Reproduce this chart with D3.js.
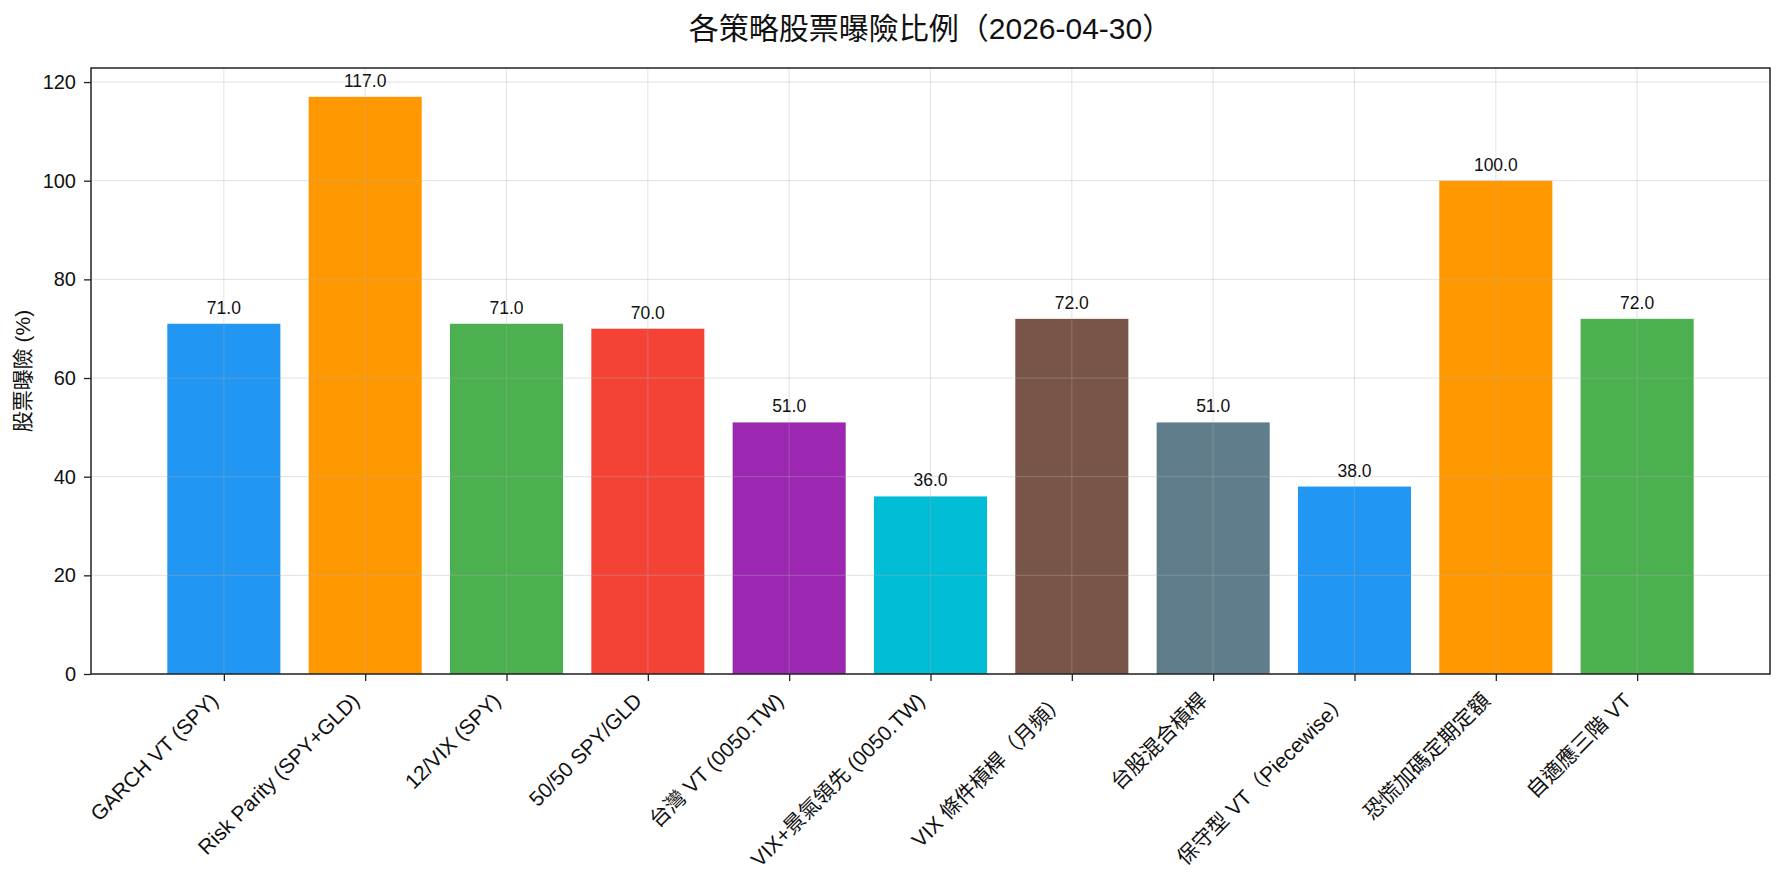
<!DOCTYPE html>
<html>
<head>
<meta charset="utf-8">
<script src="https://cdn.jsdelivr.net/npm/d3@7"></script>
<style>
  body { margin: 0; background: #fff; }
  text { font-family: "Liberation Sans", "Noto Sans CJK TC", sans-serif; fill: #111; }
</style>
</head>
<body>
<div id="chart"></div>
<script>
// data
const strategies = [
    "GARCH VT (SPY)", "Risk Parity (SPY+GLD)", "12/VIX (SPY)", "50/50 SPY/GLD",
    "台灣 VT (0050.TW)", "VIX+景氣領先 (0050.TW)", "VIX 條件槓桿（月頻）", "台股混合槓桿",
    "保守型 VT（Piecewise）", "恐慌加碼定期定額", "自適應三階 VT"
];
const exposure = [71, 117, 71, 70, 51, 36, 72, 51, 38, 100, 72];
const barColors = [
    "#2196F3", "#FF9800", "#4CAF50", "#F44336", "#9C27B0", "#00BCD4",
    "#795548", "#607D8B", "#2196F3", "#FF9800", "#4CAF50"
];
const yTicks = [0, 20, 40, 60, 80, 100, 120];
const chartTitle = "各策略股票曝險比例（2026-04-30）";
const yLabel = "股票曝險 (%)";

const W = 1782, H = 884;
const margin = {top: 68, right: 12, bottom: 210, left: 91};
const width = W - margin.left - margin.right,
    height = H - margin.top - margin.bottom;

const svg = d3.select("#chart").append("svg")
    .attr("width", W)
    .attr("height", H);

const body = svg.append("g")
    .attr("transform", "translate(" + margin.left + "," + margin.top + ")");

// bar width 0.8, 5% margins like matplotlib
const n = strategies.length;
const pad = (n - 1 + 0.8) * 0.05;
const x = d3.scaleLinear()
    .domain([-0.4 - pad, n - 1 + 0.4 + pad])
    .range([0, width]);
const y = d3.scaleLinear()
    .domain([0, d3.max(exposure) * 1.05])
    .range([height, 0]);

// bars
body.append("g")
    .selectAll("rect")
    .data(exposure)
    .enter()
    .append("rect")
    .attr("x", (d, i) => x(i - 0.4))
    .attr("width", (d, i) => x(i + 0.4) - x(i - 0.4))
    .attr("y", d => y(d))
    .attr("height", d => y(0) - y(d))
    .attr("fill", (d, i) => barColors[i]);

// grid sits above the bars
const grid = body.append("g").attr("class", "grid");
grid.selectAll(".gy")
    .data(yTicks)
    .enter()
    .append("line")
    .attr("x1", 0).attr("x2", width)
    .attr("y1", d => y(d)).attr("y2", d => y(d))
    .attr("stroke", "#b0b0b0").attr("stroke-opacity", 0.3).attr("stroke-width", 1.2);
grid.selectAll(".gx")
    .data(d3.range(n))
    .enter()
    .append("line")
    .attr("x1", d => x(d)).attr("x2", d => x(d))
    .attr("y1", 0).attr("y2", height)
    .attr("stroke", "#b0b0b0").attr("stroke-opacity", 0.3).attr("stroke-width", 1.2);

// value labels
body.append("g")
    .selectAll("text")
    .data(exposure)
    .enter()
    .append("text")
    .attr("x", (d, i) => x(i))
    .attr("y", d => y(d) - 10)
    .attr("text-anchor", "middle")
    .style("font-size", "17.5px")
    .text(d => d.toFixed(1));

// y axis
const yAxis = body.append("g")
    .call(d3.axisLeft(y).tickValues(yTicks).tickSize(7).tickPadding(8));
yAxis.selectAll("text").style("font-size", "20px");

// x axis
const xAxis = body.append("g")
    .attr("transform", "translate(0," + height + ")")
    .call(d3.axisBottom(x)
        .tickValues(d3.range(n))
        .tickFormat(i => strategies[i])
        .tickSize(7));
xAxis.selectAll("text")
    .style("font-size", "21px")
    .attr("text-anchor", "end")
    .attr("y", 0)
    .attr("dy", 0)
    .attr("transform", "translate(-5,28) rotate(-45)");

body.selectAll(".domain").remove();
body.selectAll(".tick line").attr("stroke", "#222").attr("stroke-width", 1.3);

// frame
body.append("rect")
    .attr("width", width)
    .attr("height", height)
    .attr("fill", "none")
    .attr("stroke", "#222")
    .attr("stroke-width", 1.5);

// titles
svg.append("text")
    .attr("x", margin.left + width / 2)
    .attr("y", 39)
    .attr("text-anchor", "middle")
    .style("font-size", "30px")
    .text(chartTitle);

svg.append("text")
    .attr("transform", "translate(30," + (margin.top + height / 2) + ") rotate(-90)")
    .attr("text-anchor", "middle")
    .style("font-size", "21px")
    .text(yLabel);
</script>
</body>
</html>
